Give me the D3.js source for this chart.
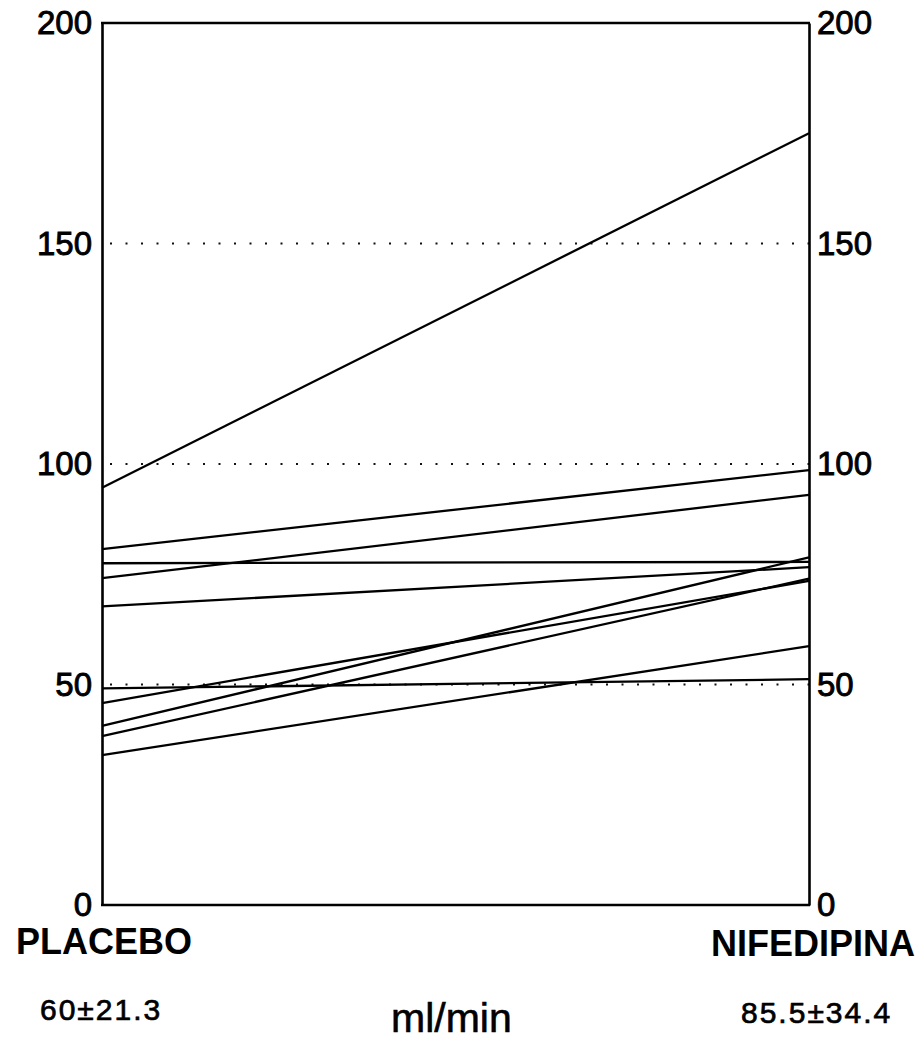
<!DOCTYPE html>
<html>
<head>
<meta charset="utf-8">
<script src="https://cdn.jsdelivr.net/npm/d3@7"></script>
<style>
  html, body { margin: 0; padding: 0; background: #fff; }
  svg { display: block; font-family: "Liberation Sans", Arial, Helvetica, sans-serif; }
</style>
</head>
<body>
<svg id="chart" width="920" height="1041"></svg>
<script>
// Conditions compared (paired measurements per patient)
const conditions = ["PLACEBO", "NIFEDIPINA"];

// Individual patient values, ml/min
const placebo    = [94.6, 80.7, 74.1, 77.5, 67.7, 49.1, 45.8, 40.6, 38.3, 34.0];
const nifedipina = [175.0, 98.6, 93.0, 77.8, 76.6, 51.2, 73.5, 78.8, 74.0, 58.7];

// Group summaries (mean ± SD)
const summaries = ["60\u00B121.3", "85.5\u00B134.4"];
const unitLabel = "ml/min";

// Axis ticks and dotted reference levels
const tickValues = [0, 50, 100, 150, 200];
const gridValues = [50, 100, 150];

const svg = d3.select("#chart");

const x = d3.scalePoint().domain(conditions).range([102, 809]);
const y = d3.scaleLinear().domain([0, 200]).range([905, 23]);

const pairs = placebo.map((p, i) => [[conditions[0], p], [conditions[1], nifedipina[i]]]);

// dotted reference lines
svg.append("g")
  .selectAll("line")
  .data(gridValues)
  .join("line")
  .attr("x1", x(conditions[0]) + 8)
  .attr("x2", x(conditions[1]))
  .attr("y1", d => y(d))
  .attr("y2", d => y(d))
  .attr("stroke", "#111")
  .attr("stroke-width", 2)
  .attr("stroke-dasharray", "2 13.5");

// top and bottom frame lines
svg.append("g")
  .selectAll("line")
  .data([0, 200])
  .join("line")
  .attr("x1", x(conditions[0]) - 1)
  .attr("x2", x(conditions[1]) + 1)
  .attr("y1", d => y(d))
  .attr("y2", d => y(d))
  .attr("stroke", "#000")
  .attr("stroke-width", 2.4);

// paired patient lines
const line = d3.line().x(d => x(d[0])).y(d => y(d[1]));
svg.append("g")
  .selectAll("path")
  .data(pairs)
  .join("path")
  .attr("d", line)
  .attr("fill", "none")
  .attr("stroke", "#000")
  .attr("stroke-width", 2.3);

// left and right axes
function styleAxis(g) {
  g.select(".domain").attr("stroke", "#000").attr("stroke-width", 2.6);
  g.selectAll(".tick line").remove();
  g.selectAll(".tick text")
    .attr("font-size", 33)
    .attr("font-family", "'Liberation Sans', Arial, sans-serif")
    .attr("fill", "#000")
    .attr("stroke", "#000")
    .attr("stroke-width", 0.9);
}

svg.append("g")
  .attr("transform", `translate(${x(conditions[0])},0)`)
  .call(d3.axisLeft(y).tickValues(tickValues).tickSize(0).tickPadding(10).tickFormat(d3.format("d")))
  .call(styleAxis);

svg.append("g")
  .attr("transform", `translate(${x(conditions[1])},0)`)
  .call(d3.axisRight(y).tickValues(tickValues).tickSize(0).tickPadding(8).tickFormat(d3.format("d")))
  .call(styleAxis);

// condition names
svg.append("text")
  .attr("x", 16).attr("y", 954)
  .attr("font-size", 36).attr("font-weight", "bold")
  .text(conditions[0]);

svg.append("text")
  .attr("x", 915).attr("y", 956)
  .attr("text-anchor", "end")
  .attr("font-size", 36).attr("font-weight", "bold")
  .text(conditions[1]);

// summary statistics and unit
svg.append("text")
  .attr("x", 40).attr("y", 1020)
  .attr("font-size", 30).attr("letter-spacing", 2)
  .attr("stroke", "#000").attr("stroke-width", 0.7)
  .text(summaries[0]);

svg.append("text")
  .attr("x", 741).attr("y", 1023)
  .attr("font-size", 30).attr("letter-spacing", 2)
  .attr("stroke", "#000").attr("stroke-width", 0.7)
  .text(summaries[1]);

svg.append("text")
  .attr("x", 391).attr("y", 1032)
  .attr("font-size", 41)
  .attr("stroke", "#000").attr("stroke-width", 0.6)
  .text(unitLabel);
</script>
</body>
</html>
